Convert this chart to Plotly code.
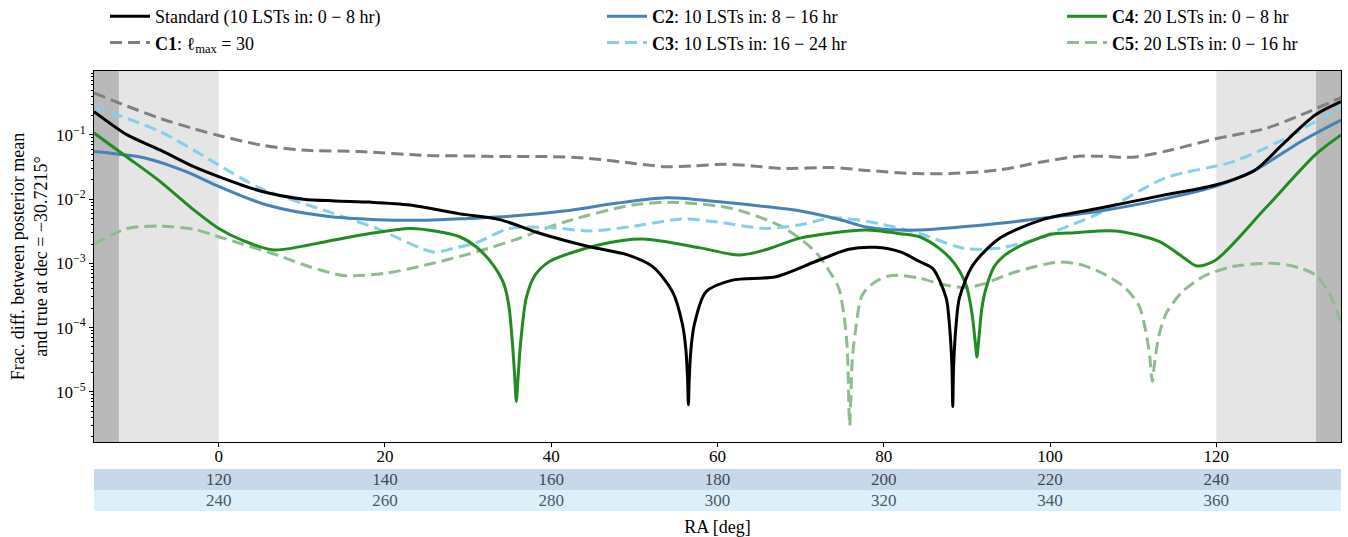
import plotly.graph_objects as go

# ---------------- data (RA in deg, fractional difference) ----------------
x_std = [-15, -11, -7, -3, 0, 5, 10.2, 14, 18.2, 23, 29, 33.8, 38.6, 44.6, 49, 52.2, 54.6, 55.8, 56.2, 56.4, 56.5,
         56.6, 56.8, 57.2, 58.6, 61.8, 67, 71.8, 75.8, 79, 82, 84.3, 85.9, 87.5, 87.9, 88.2, 88.3, 88.4, 88.7, 89.1,
         90.7, 93.9, 99.1, 105.9, 113.9, 119.9, 124.7, 127.9, 131.9, 135]
y_std = [0.23, 0.10, 0.058, 0.032, 0.0224, 0.0134, 0.0100, 0.0094, 0.0090, 0.0081, 0.0059, 0.0048, 0.00295, 0.00182,
         0.00138, 0.00089, 0.00036, 0.00011, 4.5e-5, 1.6e-5, 6.3e-6, 1.6e-5, 4.5e-5, 0.00011, 0.00036, 0.00055,
         0.00062, 0.00107, 0.00166, 0.00178, 0.00151, 0.00107, 0.00083, 0.00029, 0.00011, 2.5e-5, 5.9e-6, 2.5e-5,
         0.00011, 0.00029, 0.00093, 0.00245, 0.0048, 0.0072, 0.0117, 0.0166, 0.0285, 0.070, 0.204, 0.33]

x_c1 = [-15, -11, -7, -3, 0, 5, 10, 17, 25, 30, 34, 40, 44.6, 50, 53.8, 57, 61, 64, 67.8, 73.8, 78, 83.8, 88,
        93.9, 99, 103.9, 107, 109.9, 114, 119.9, 125.9, 130, 135]
y_c1 = [0.45, 0.28, 0.18, 0.125, 0.098, 0.070, 0.058, 0.055, 0.048, 0.047, 0.046, 0.046, 0.043, 0.036, 0.032,
        0.033, 0.035, 0.033, 0.030, 0.031, 0.028, 0.025, 0.025, 0.0285, 0.038, 0.047, 0.046, 0.045, 0.056, 0.087,
        0.126, 0.20, 0.38]

x_c2 = [-15, -12, -9, -4, 0, 5.8, 13, 19, 25, 30, 35, 41.8, 48, 53.8, 57, 61.8, 66, 69.8, 75, 77.8, 82, 86,
        93.9, 100, 105.9, 113.9, 119.9, 124.7, 130.2, 135]
y_c2 = [0.055, 0.050, 0.044, 0.027, 0.0158, 0.0081, 0.0054, 0.0048, 0.0047, 0.0050, 0.0054, 0.0066, 0.0087,
        0.0105, 0.0100, 0.0087, 0.0076, 0.0066, 0.0047, 0.0037, 0.0033, 0.0034, 0.0042, 0.0052, 0.0065, 0.0102,
        0.0158, 0.0285, 0.079, 0.17]

x_c3 = [-15, -11, -7, -3, 0, 5, 13, 19, 25.8, 28.5, 31, 35, 40, 44.6, 50, 55.8, 60, 65.8, 70, 73.8, 78, 84,
        89.8, 94, 97.9, 101, 105.9, 113.9, 121.9, 127.9, 135]
y_c3 = [0.275, 0.18, 0.112, 0.058, 0.034, 0.0148, 0.0065, 0.0035, 0.00151, 0.00175, 0.0021, 0.0035, 0.0036,
        0.0032, 0.0038, 0.0049, 0.0044, 0.0035, 0.0040, 0.0051, 0.0045, 0.0030, 0.0017, 0.00174, 0.0023, 0.0033,
        0.0060, 0.0214, 0.038, 0.083, 0.275]

x_c4 = [-15, -11, -7, -3, 0, 3, 6.6, 13, 18, 23, 26, 29, 31, 33, 34.3, 34.9, 35.3, 35.6, 35.8, 36.0, 36.3, 37,
        38, 39.8, 45.8, 51, 57.8, 62.6, 66, 69.8, 74, 77.8, 82, 84.3, 86.7, 88.5, 89.9, 90.6, 91.0, 91.2, 91.4,
        91.8, 92.3, 93.3, 95.1, 99.9, 103, 107.9, 113.1, 116, 117.7, 119.9, 125.9, 131.9, 135]
y_c4 = [0.107, 0.045, 0.0186, 0.0068, 0.0035, 0.00225, 0.00162, 0.0022, 0.0029, 0.0035, 0.0032, 0.0026, 0.0018,
        0.00095, 0.00048, 0.00022, 6.5e-5, 1.8e-5, 7.1e-6, 1.6e-5, 5.5e-5, 0.00029, 0.00064, 0.00107, 0.00195,
        0.0024, 0.00176, 0.00135, 0.00166, 0.00245, 0.0030, 0.0033, 0.0029, 0.0026, 0.0017, 0.0010, 0.00046,
        0.00017, 6e-5, 3.5e-5, 6e-5, 0.00020, 0.00041, 0.00090, 0.00151, 0.0028, 0.0030, 0.0032, 0.0022, 0.00125,
        0.00091, 0.00112, 0.0072, 0.049, 0.10]

x_c5 = [-15, -11, -7, -3, 0, 7, 11, 15, 20, 25, 31, 35.5, 41.8, 49.8, 55, 61.8, 67.8, 71.8, 73.5, 74.6, 75.2,
        75.6, 75.9, 76.2, 76.6, 77.4, 79, 81, 84.3, 87, 89.9, 92, 95.9, 101.1, 104, 106.7, 109, 110.7, 111.5,
        112.0, 112.3, 112.6, 113.1, 114, 115.9, 118.5, 121.9, 127.1, 130, 131.9, 133.5, 135]
y_c5 = [0.0020, 0.0035, 0.0038, 0.0034, 0.0026, 0.00135, 0.00088, 0.00065, 0.00070, 0.00095, 0.00151, 0.0023,
        0.0045, 0.0081, 0.0089, 0.0071, 0.0037, 0.00151, 0.00074, 0.00041, 0.00016, 5e-5, 3e-6, 3e-5, 9e-5,
        0.00032, 0.00052, 0.00065, 0.00059, 0.00047, 0.00042, 0.00048, 0.00074, 0.00105, 0.00093, 0.00066,
        0.00042, 0.00022, 9e-5, 3.5e-5, 1.45e-5, 3e-5, 7.5e-5, 0.00017, 0.00036, 0.00063, 0.00089, 0.00100,
        0.00085, 0.00066, 0.00036, 0.000123]

x_ticks = [0, 20, 40, 60, 80, 100, 120]
ra_row1 = [120, 140, 160, 180, 200, 220, 240]
ra_row2 = [240, 260, 280, 300, 320, 340, 360]
y_ticks = [1e-5, 1e-4, 1e-3, 1e-2, 1e-1]
y_ticktext = ["10<sup>−5</sup>", "10<sup>−4</sup>", "10<sup>−3</sup>", "10<sup>−2</sup>", "10<sup>−1</sup>"]

names = ["Standard (10 LSTs in: 0 − 8 hr)",
         "<b>C1</b>: ℓ<sub>max</sub> = 30",
         "<b>C2</b>: 10 LSTs in: 8 − 16 hr",
         "<b>C3</b>: 10 LSTs in: 16 − 24 hr",
         "<b>C4</b>: 20 LSTs in: 0 − 8 hr",
         "<b>C5</b>: 20 LSTs in: 0 − 16 hr"]

FONT = "Liberation Serif"
fig = go.Figure()

series = [
    (x_c5, y_c5, names[5], "#8fbc8f", "12px,6px", "legend3"),
    (x_c1, y_c1, names[1], "#808080", "12px,6px", "legend"),
    (x_c3, y_c3, names[3], "#87ceeb", "12px,6px", "legend2"),
    (x_c2, y_c2, names[2], "#4682b4", "solid", "legend2"),
    (x_c4, y_c4, names[4], "#228b22", "solid", "legend3"),
    (x_std, y_std, names[0], "#000000", "solid", "legend"),
]
rank = {names[i]: i for i in range(6)}
for xs, ys, nm, col, dash, lg in series:
    fig.add_trace(go.Scatter(x=xs, y=ys, mode="lines", name=nm, legend=lg, legendrank=rank[nm],
                             xaxis="x", yaxis="y",
                             line=dict(color=col, width=3, dash=dash, shape="spline", smoothing=0.8)))

# transparent anchor traces so that the two secondary RA axes get drawn
for xs, xa, ya in [(ra_row1, "x2", "y2"), (ra_row2, "x3", "y3")]:
    fig.add_trace(go.Scatter(x=[xs[0], xs[-1]], y=[0, 0], mode="markers", marker=dict(opacity=0, size=1),
                             showlegend=False, hoverinfo="skip", xaxis=xa, yaxis=ya))

# shaded regions
shapes = []
for x0, x1, c in [(-15, 0, "#e5e5e5"), (120, 135, "#e5e5e5"), (-15, -12, "#b9b9b9"), (132, 135, "#b9b9b9")]:
    shapes.append(dict(type="rect", xref="x", yref="y domain", x0=x0, x1=x1, y0=0, y1=1,
                       fillcolor=c, line_width=0, layer="below"))
# bands under the axis
shapes.append(dict(type="rect", xref="paper", yref="paper", x0=0, x1=1, y0=0.0605, y1=0.1076,
                   fillcolor="#c7d9e8", line_width=0, layer="below"))
shapes.append(dict(type="rect", xref="paper", yref="paper", x0=0, x1=1, y0=0.0135, y1=0.0605,
                   fillcolor="#dbf0f9", line_width=0, layer="below"))

minor_vals = [k * 10.0 ** e for e in range(-6, 0) for k in range(2, 10)]

PH = 446.0  # paper height in px (537 - 71 - 20)
LY = 1 + 73 / PH
legend_common = dict(orientation="v", yanchor="top", xanchor="left", y=LY,
                     bgcolor="rgba(0,0,0,0)", font=dict(family=FONT, size=18, color="black"),
                     tracegroupgap=0, itemwidth=40)

band_axis = dict(showline=False, showgrid=False, zeroline=False, ticks="", tickmode="array",
                 automargin=False, fixedrange=True)

fig.update_layout(
    width=1348, height=537,
    margin=dict(l=94, r=7, t=71, b=20, autoexpand=False),
    paper_bgcolor="white", plot_bgcolor="rgba(0,0,0,0)",
    font=dict(family=FONT, size=17, color="black"),
    shapes=shapes,
    showlegend=True,
    legend=dict(legend_common, x=(105 - 94) / 1247),
    legend2=dict(legend_common, x=(602 - 94) / 1247),
    legend3=dict(legend_common, x=(1062 - 94) / 1247),
    xaxis=dict(range=[-15, 135], domain=[0, 1], tickmode="array", tickvals=x_ticks, ticks="outside", ticklen=4,
               tickcolor="black", showline=True, linecolor="black", linewidth=1, mirror=True,
               showgrid=False, zeroline=False, tickfont=dict(size=17), anchor="y", automargin=False,
               ticklabelstandoff=-5),
    yaxis=dict(type="log", range=[-5.78, -0.005], domain=[0.1682, 1], anchor="x", tickmode="array",
               tickvals=y_ticks, ticktext=y_ticktext, ticks="outside", ticklen=4, tickcolor="black",
               showline=True, linecolor="black", linewidth=1, mirror=True, showgrid=False, zeroline=False,
               tickfont=dict(size=17), automargin=True,
               minor=dict(tickmode="array", tickvals=minor_vals, ticks="outside", ticklen=2, tickcolor="black"),
               title=dict(text="Frac. diff. between posterior mean<br>and true at dec = −30.7215°",
                          font=dict(size=18), standoff=3)),
    xaxis2=dict(band_axis, range=[105, 255], domain=[0, 1], anchor="y2", tickvals=ra_row1,
                tickfont=dict(size=17, color="#3d4a56")),
    yaxis2=dict(domain=[0.1110, 0.150], anchor="x2", visible=False, fixedrange=True),
    xaxis3=dict(band_axis, range=[225, 375], domain=[0, 1], anchor="y3", tickvals=ra_row2,
                tickfont=dict(size=17, color="#4a5866"),
                title=dict(text="RA [deg]", font=dict(size=18))),
    yaxis3=dict(domain=[0.0645, 0.100], anchor="x3", visible=False, fixedrange=True),
)

fig.write_html("out.html")
